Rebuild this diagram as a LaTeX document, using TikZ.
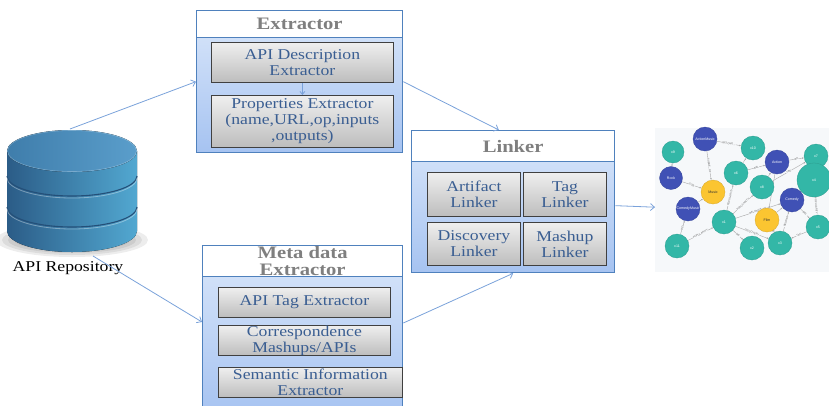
\documentclass[tikz,border=0pt]{standalone}
\usepackage{fontspec}
\setmainfont{Liberation Serif}[FakeStretch=1.18]
\newfontfamily\gfont{Liberation Sans}
\usetikzlibrary{arrows.meta,calc,shadows}
\definecolor{grpedge}{HTML}{4F81BD}
\definecolor{grptop}{HTML}{DAE7FA}
\definecolor{grpbot}{HTML}{A6C3F1}
\definecolor{ttlgray}{HTML}{7F7F7F}
\definecolor{boxtxt}{HTML}{3A5E92}
\definecolor{boxtop}{HTML}{EFEFEF}
\definecolor{boxbot}{HTML}{BDBDBD}
\definecolor{arrcol}{HTML}{7AA2DA}
\definecolor{dbdark}{HTML}{2B5C87}
\definecolor{dblight}{HTML}{52A8D1}
\definecolor{dbtopl}{HTML}{3F7DAB}
\definecolor{dbtopr}{HTML}{5A9ECB}
\definecolor{dbband}{HTML}{244F78}
\definecolor{kgbg}{HTML}{F6F8FA}
\definecolor{kteal}{HTML}{33B7A7}
\definecolor{kblue}{HTML}{4051B5}
\definecolor{kyellow}{HTML}{FBC531}
\definecolor{kedge}{HTML}{A8A8A8}
\pgfdeclarelayer{bg}
\pgfdeclarelayer{edges}
\pgfsetlayers{bg,edges,main}
\begin{document}
\begin{tikzpicture}[x=1pt,y=-1pt,
  grp/.style={draw=grpedge, line width=1.3pt, top color=grptop, bottom color=grpbot,
    anchor=north west, inner sep=0pt},
  ttl/.style={draw=grpedge, line width=1.3pt, fill=white, anchor=north west, inner sep=0pt,
    align=center, text=ttlgray, font=\bfseries\fontsize{17.5}{17}\selectfont},
  inbox/.style={draw=black!75, line width=0.8pt, top color=boxtop, bottom color=boxbot,
    anchor=north west, inner sep=0pt, align=center, text=boxtxt,
    font=\fontsize{15}{16}\selectfont,
    drop shadow={shadow xshift=0.8pt, shadow yshift=-0.8pt, opacity=0.35}},
  arr/.style={draw=arrcol, line width=0.8pt, -{Straight Barb[length=4pt,width=7pt]}},
  gnode/.style={circle, inner sep=0pt, minimum size=24pt, text=white,
    font=\gfont\fontsize{3.6}{4}\selectfont},
  gt/.style={gnode, fill=kteal, draw=kteal!85!black, line width=0.3pt},
  gb/.style={gnode, fill=kblue, draw=kblue!85!black, line width=0.3pt},
  gy/.style={gnode, fill=kyellow, draw=kyellow!85!black, line width=0.3pt, text=black!80},
  gedge/.style={draw=kedge, line width=0.4pt, -{Latex[length=1.8pt,width=1.6pt]}},
  elab/.style={sloped, midway, fill=kgbg, inner sep=0.3pt, text=black!60,
    font=\gfont\fontsize{2.6}{3}\selectfont}]
\useasboundingbox (0,0) rectangle (829,405);
\clip (0,0) rectangle (829,405);

% ---------- repository cylinder ----------
% soft floor shadow, built from stacked translucent ellipses
\foreach \r/\s in {76/17,70/15,64/13,58/11,52/9,46/7}
  \fill[black, opacity=0.07] (72,240) ellipse [x radius=\r pt, y radius=\s pt];
\fill[left color=dbdark, right color=dblight]
  (7,151) -- (7,231) arc[start angle=180, end angle=360, x radius=65pt, y radius=21pt]
  -- (137,151) -- cycle;
\draw[dbband, line width=1.1pt] (7,176) arc[start angle=180, end angle=360, x radius=65pt, y radius=20pt];
\draw[white, opacity=0.35, line width=0.8pt] (7,178) arc[start angle=180, end angle=360, x radius=65pt, y radius=20pt];
\draw[dbband, line width=1.1pt] (7,207) arc[start angle=180, end angle=360, x radius=65pt, y radius=20pt];
\draw[white, opacity=0.35, line width=0.8pt] (7,209) arc[start angle=180, end angle=360, x radius=65pt, y radius=20pt];
\fill[left color=dbtopl, right color=dbtopr] (72,151) ellipse [x radius=65pt, y radius=21pt];
\draw[white, opacity=0.25, line width=0.6pt] (72,151) ellipse [x radius=64.5pt, y radius=20.5pt];
\node[font=\fontsize{15}{16}\selectfont, inner sep=0pt] (repolbl) at (68,268) {API Repository};
\coordinate (dbtop) at (70,129);
\coordinate (dbbot) at (93,256);

% ---------- Extractor ----------
\node[grp, minimum width=206pt, minimum height=142pt] (exg) at (196,10) {};
\node[ttl, minimum width=206pt, minimum height=27pt] (ext) at (196,10) {Extractor};
\node[inbox, minimum width=182pt, minimum height=40pt] (ed1) at (211,42) {API Description\\Extractor};
\node[inbox, minimum width=182pt, minimum height=52pt] (ed2) at (211,95) {Properties Extractor\\(name,URL,op,inputs\\,outputs)};
\draw[arr, -{Straight Barb[length=3pt,width=5pt]}] (ed1) -- (ed2);

% ---------- Meta data Extractor ----------
\node[grp, minimum width=200pt, minimum height=170pt] (meg) at (202,245) {};
\node[ttl, minimum width=200pt, minimum height=31pt] (met) at (202,245) {Meta data\\Extractor};
\node[inbox, minimum width=172pt, minimum height=30pt] (me1) at (218,287) {API Tag Extractor};
\node[inbox, minimum width=172pt, minimum height=30pt] (me2) at (218,325) {Correspondence\\Mashups/APIs};
\node[inbox, minimum width=184pt, minimum height=30pt] (me3) at (218,367) {Semantic Information\\Extractor};

% ---------- Linker ----------
\node[grp, minimum width=203pt, minimum height=142pt] (lkg) at (411,130) {};
\node[ttl, minimum width=203pt, minimum height=31pt] (lkt) at (411,130) {Linker};
\node[inbox, minimum width=93pt, minimum height=44pt] (lk1) at (427,172) {Artifact\\Linker};
\node[inbox, minimum width=83pt, minimum height=44pt] (lk2) at (523,172) {Tag\\Linker};
\node[inbox, minimum width=93pt, minimum height=43pt] (lk3) at (427,222) {Discovery\\Linker};
\node[inbox, minimum width=83pt, minimum height=43pt] (lk4) at (523,222) {Mashup\\Linker};

% ---------- knowledge graph ----------
\begin{pgfonlayer}{bg}
\node[anchor=north west, fill=kgbg, minimum width=180pt, minimum height=144pt, inner sep=0pt] (kg) at (655,128) {};
\end{pgfonlayer}
\node[gt, minimum size=22pt] (x9) at (673,152) {x9};
\node[gb, minimum size=23pt] (rock) at (671,178) {Rock};
\node[gb] (actmus) at (705,139) {ActionMusic};
\node[gt] (x10) at (753,148) {x10};
\node[gb] (action) at (777,162) {Action};
\node[gt] (x7) at (816,156) {x7};
\node[gt, minimum size=34pt] (x4) at (814,180) {x4};
\node[gt] (x6) at (736,173) {x6};
\node[gt] (x8) at (762,187) {x8};
\node[gy] (music) at (713,192) {Music};
\node[gb] (commus) at (688,209) {ComedyMusic};
\node[gb] (comedy) at (792,200) {Comedy};
\node[gt] (x1) at (724,222) {x1};
\node[gy] (film) at (767,220) {Film};
\node[gt] (x5) at (818,227) {x5};
\node[gt] (x11) at (677,246) {x11};
\node[gt] (x2) at (752,248) {x2};
\node[gt] (x3) at (780,243) {x3};
\begin{pgfonlayer}{edges}
\draw[gedge] (x9) -- (rock);
\draw[gedge] (actmus) -- node[elab]{BELONG...} (x10);
\draw[gedge] (actmus) -- node[elab]{SUBGE\_OF} (music);
\draw[gedge] (rock) -- node[elab]{SUB} (music);
\draw[gedge] (x6) -- (x10);
\draw[gedge] (x6) -- node[elab]{BEL} (action);
\draw[gedge] (action) -- node[elab]{BE} (x7);
\draw[gedge] (x8) -- node[elab]{TAG} (x7);
\draw[gedge] (x8) -- (action);
\draw[gedge] (action) -- node[elab]{IS} (film);
\draw[gedge] (x1) -- node[elab]{POPULARITY} (x6);
\draw[gedge] (x1) -- node[elab]{POPULARITY} (x8);
\draw[gedge] (x1) -- node[elab]{BELONGS\_TO} (comedy);
\draw[gedge] (x11) -- node[elab]{POPULARITY} (x1);
\draw[gedge] (x11) -- node[elab]{BEL} (commus);
\draw[gedge] (commus) -- (music);
\draw[gedge] (x1) -- node[elab]{DIS} (x2);
\draw[gedge] (x1) -- node[elab]{DISCOVERY} (x3);
\draw[gedge] (film) -- (comedy);
\draw[gedge] (x3) -- node[elab]{BE} (film);
\draw[gedge] (x3) -- node[elab]{BELONG} (comedy);
\draw[gedge] (x5) -- node[elab]{TAG} (x3);
\draw[gedge] (x4) -- node[elab]{POPULARITY} (x5);
\draw[gedge] (comedy) -- node[elab]{BEL} (x5);
\end{pgfonlayer}

% ---------- flow arrows ----------
\draw[arr] (dbtop) -- (exg.west);
\draw[arr] (exg.east) -- ($(lkg.north west)!0.43!(lkg.north east)$);
\draw[arr] (dbbot) -- ($(meg.north west)+(0,77)$);
\draw[arr] ($(meg.north east)+(0,78)$) -- (lkg.south);
\draw[arr] ($(lkg.east)+(0,4)$) -- ($(kg.west)+(0,7)$);
\end{tikzpicture}
\end{document}
